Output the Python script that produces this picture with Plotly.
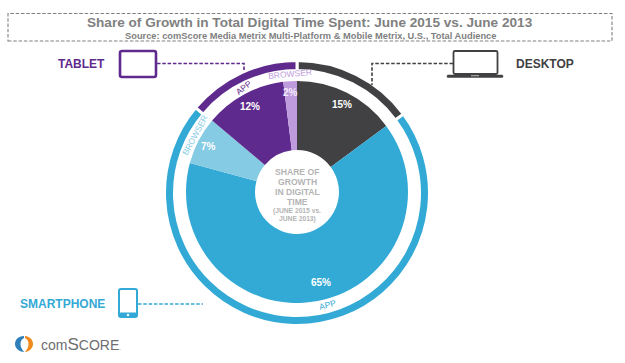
import plotly.graph_objects as go

W, H = 625, 363
FONT = "Liberation Sans, Arial, sans-serif"

TITLE = "Share of Growth in Total Digital Time Spent: June 2015 vs. June 2013"
SOURCE = "Source: comScore Media Metrix Multi-Platform & Mobile Metrix, U.S., Total Audience"

segment_labels = ["Desktop", "Smartphone App", "Smartphone Browser", "Tablet App", "Tablet Browser"]
segment_values = [15, 65, 7, 12, 2]
segment_colors = ["#414042", "#33A9D6", "#85CBE4", "#5F2A8D", "#BE9BDD"]

platform_labels = ["Desktop", "Smartphone", "Tablet"]
platform_values = [15, 72, 14]
platform_colors = ["#414042", "#33A9D6", "#5F2A8D"]

BLUE, PURPLE, DARK = "#33A9D6", "#5F2A8D", "#414042"
GREY = "#808080"
CENTER_GREY = "#B4B4B4"
DASH = "3.5px,1.8px"


def X(x):
    return x / W


def Y(y):
    return 1 - y / H


def domain(cx, cy, r):
    return dict(x=[X(cx - r), X(cx + r)], y=[Y(cy + r), Y(cy - r)])


fig = go.Figure()

fig.add_trace(go.Pie(
    labels=segment_labels, values=segment_values, sort=False, direction="clockwise",
    rotation=0, hole=42 / 111, textinfo="none", hoverinfo="label+value",
    marker=dict(colors=segment_colors, line=dict(width=0)),
    domain=domain(297, 192, 111), showlegend=False,
))
ring_r = 131 + 1.5
fig.add_trace(go.Pie(
    labels=platform_labels, values=platform_values, sort=False, direction="clockwise",
    rotation=0, hole=(124 - 1.5) / ring_r, textinfo="none", hoverinfo="label+value",
    marker=dict(colors=platform_colors, line=dict(width=3, color="white")),
    domain=domain(297, 193, ring_r), showlegend=False,
))

shapes = []


def line(pts, color, width=1.6, dash=DASH):
    d = "M" + " L".join(f"{X(x):.5f},{Y(y):.5f}" for x, y in pts)
    shapes.append(dict(type="path", path=d, xref="paper", yref="paper",
                       line=dict(color=color, width=width, dash=dash)))


def rrect(x0, y0, x1, y1, r, color, width, fill="rgba(0,0,0,0)"):
    d = (f"M{X(x0 + r):.5f},{Y(y0):.5f} L{X(x1 - r):.5f},{Y(y0):.5f} "
         f"Q{X(x1):.5f},{Y(y0):.5f} {X(x1):.5f},{Y(y0 + r):.5f} "
         f"L{X(x1):.5f},{Y(y1 - r):.5f} Q{X(x1):.5f},{Y(y1):.5f} {X(x1 - r):.5f},{Y(y1):.5f} "
         f"L{X(x0 + r):.5f},{Y(y1):.5f} Q{X(x0):.5f},{Y(y1):.5f} {X(x0):.5f},{Y(y1 - r):.5f} "
         f"L{X(x0):.5f},{Y(y0 + r):.5f} Q{X(x0):.5f},{Y(y0):.5f} {X(x0 + r):.5f},{Y(y0):.5f} Z")
    shapes.append(dict(type="path", path=d, xref="paper", yref="paper", fillcolor=fill,
                       line=dict(color=color, width=width)))


# title box
shapes.append(dict(type="rect", xref="paper", yref="paper", x0=X(8), x1=X(612), y0=Y(41), y1=Y(13.5),
                   line=dict(color="#808080", width=1.1, dash=DASH)))
# leader lines
line([(157, 63.5), (244, 63.5), (244, 72)], PURPLE)
line([(453, 63.5), (372, 63.5), (372, 85)], DARK)
line([(138, 304), (203, 304)], BLUE)
# tablet icon
rrect(120, 51, 156, 77, 2, PURPLE, 2.6)
# laptop icon
rrect(453.5, 51, 497.5, 74, 1.5, DARK, 1.8)
rrect(447, 75, 503, 77.5, 1, DARK, 0.5, DARK)
shapes.append(dict(type="rect", xref="paper", yref="paper", x0=X(471), x1=X(479), y0=Y(76.2), y1=Y(75.2),
                   fillcolor="#BBBBBB", line=dict(width=0)))
# smartphone icon
rrect(119, 289, 137, 317, 2, BLUE, 2)
rrect(119, 313, 137, 317, 1.5, BLUE, 1, BLUE)
shapes.append(dict(type="circle", xref="paper", yref="paper", x0=X(126.8), x1=X(129.2), y0=Y(316.2), y1=Y(313.8),
                   fillcolor="white", line=dict(width=0)))
# comScore logo


def blob(pts, color):
    (a, b, c, d, e, f, g) = pts
    p = (f"M{X(a[0]):.5f},{Y(a[1]):.5f} C{X(b[0]):.5f},{Y(b[1]):.5f} {X(c[0]):.5f},{Y(c[1]):.5f} {X(d[0]):.5f},{Y(d[1]):.5f} "
         f"C{X(e[0]):.5f},{Y(e[1]):.5f} {X(f[0]):.5f},{Y(f[1]):.5f} {X(g[0]):.5f},{Y(g[1]):.5f} Z")
    shapes.append(dict(type="path", path=p, xref="paper", yref="paper", fillcolor=color, line=dict(width=0)))


blob([(24, 336), (18, 336), (15, 340), (15, 344), (15, 348), (19, 352), (24, 352)], "#2F7FB8")
blob([(24, 338), (21.5, 339.5), (20.5, 341.5), (20.5, 344), (20.5, 346.5), (21.5, 349), (24, 352)], "white")
blob([(25, 336), (30, 336.5), (33, 340), (33, 344), (33, 348), (29, 352), (25, 352)], "#F08A1D")
blob([(25, 338), (27.5, 339.5), (28.5, 341.5), (28.5, 344), (28.5, 346.5), (27.5, 349), (25, 352)], "white")

annotations = []


def text(x, y, s, size, color, bold=True, angle=0):
    annotations.append(dict(x=X(x), y=Y(y), xref="paper", yref="paper", text=f"<b>{s}</b>" if bold else s,
                            showarrow=False, xanchor="center", yanchor="middle", textangle=angle,
                            font=dict(family=FONT, size=size, color=color)))


text(310, 22.7, TITLE, 13.6, GREY)
text(310, 36, SOURCE, 9.3, GREY)
text(81.5, 64, "TABLET", 12, PURPLE)
text(544.5, 64, "DESKTOP", 12, DARK)
text(62.5, 303.5, "SMARTPHONE", 12, BLUE)

text(342, 105, "15%", 10, "white")
text(250, 106.5, "12%", 10, "white")
text(290, 92, "2%", 10, "#F3ECFA")
text(209, 146, "7%", 10, "white")
text(321, 282, "65%", 10, "white")

text(243, 87.5, "APP", 8.5, PURPLE, bold=False, angle=-38)
text(290, 73.5, "BROWSER", 8.5, "#BE9BDD", bold=False, angle=-5)
text(195, 135, "BROWSER", 8.5, "#85CBE4", bold=False, angle=-62)
text(327, 305, "APP", 8.5, BLUE, bold=False, angle=-15)

text(297, 172, "SHARE OF", 8.6, CENTER_GREY)
text(297, 182, "GROWTH", 8.6, CENTER_GREY)
text(297, 192, "IN DIGITAL", 8.6, CENTER_GREY)
text(297, 202, "TIME", 8.6, CENTER_GREY)
text(297, 211, "(JUNE 2015 vs.", 6.7, CENTER_GREY)
text(297, 219, "JUNE 2013)", 6.7, CENTER_GREY)

annotations.append(dict(x=X(38.5), y=Y(344), xref="paper", yref="paper", showarrow=False,
                        xanchor="left", yanchor="middle",
                        text='com<span style="font-size:17px">S</span>CORE<span style="font-size:6px">.</span>',
                        font=dict(family=FONT, size=14, color="#6D6E71")))

fig.update_layout(
    width=W, height=H, margin=dict(l=0, r=0, t=0, b=0), autosize=False,
    paper_bgcolor="white", plot_bgcolor="white", showlegend=False,
    shapes=shapes, annotations=annotations,
)

fig.write_html("out.html", config={"displayModeBar": False},
               post_script="document.body.style.margin='0';")
